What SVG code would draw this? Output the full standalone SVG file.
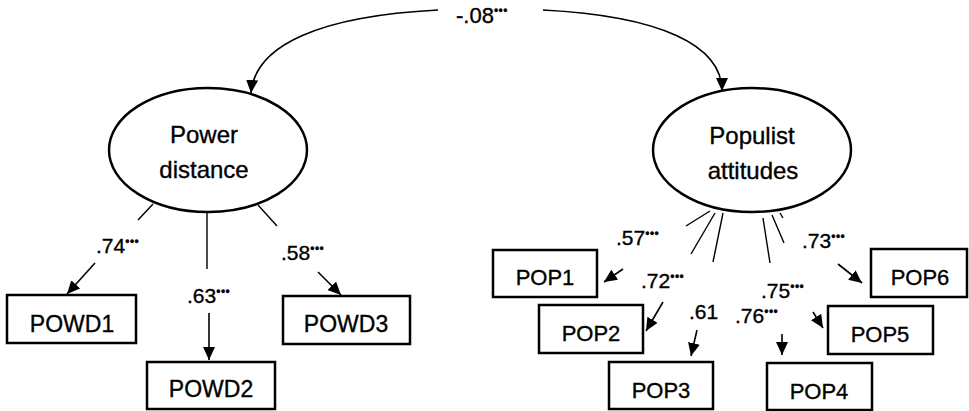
<svg xmlns="http://www.w3.org/2000/svg" width="969" height="411" viewBox="0 0 969 411">
<style>
text{font-family:"Liberation Sans",Arial,sans-serif;fill:#000;stroke:#000;stroke-width:0.35}
.lat{fill:#fff;stroke:#000;stroke-width:2.5}
.box{fill:#fff;stroke:#000;stroke-width:2.5}
.lt{font-size:24px;text-anchor:middle}
.bx{font-size:23px;text-anchor:middle}
.bt{font-size:22px;text-anchor:middle}
.lb{font-size:21px}
.st{font-size:12px;letter-spacing:0.5px}
.ln{stroke:#000;stroke-width:1.4;fill:none}
.ar{stroke:#000;stroke-width:1.6;fill:none;marker-end:url(#ah)}
</style>
<defs>
<marker id="ah" markerUnits="userSpaceOnUse" markerWidth="14" markerHeight="12" refX="13" refY="6" orient="auto">
<path d="M0,0 L13,6 L0,12 Z" fill="#000"/>
</marker>
</defs>
<rect width="969" height="411" fill="#fff"/>
<g id="connectors">
<path class="ar" d="M438,10 C320,16 255,45 251,93"/>
<path class="ar" d="M543,10 C660,16 722,45 722,91"/>
<line class="ln" x1="153" y1="204" x2="138" y2="220"/>
<line class="ar" x1="95" y1="263" x2="67" y2="294"/>
<line class="ln" x1="207" y1="212" x2="207" y2="269"/>
<line class="ar" x1="209" y1="313" x2="209" y2="360"/>
<line class="ln" x1="258" y1="205" x2="277" y2="226"/>
<line class="ar" x1="318" y1="272" x2="341" y2="295"/>
<line class="ln" x1="710" y1="211" x2="686" y2="226"/>
<line class="ln" x1="715" y1="213" x2="691" y2="254"/>
<line class="ln" x1="723" y1="213" x2="713" y2="262"/>
<line class="ln" x1="763" y1="218" x2="770" y2="263"/>
<line class="ln" x1="772" y1="215" x2="784" y2="243"/>
<line class="ln" x1="780" y1="213" x2="783" y2="218"/>
<line class="ar" x1="623" y1="269" x2="604" y2="282"/>
<line class="ar" x1="663" y1="302" x2="646" y2="331"/>
<line class="ar" x1="697" y1="330" x2="691" y2="356"/>
<line class="ar" x1="782" y1="334" x2="782" y2="355"/>
<line class="ar" x1="813" y1="312" x2="823" y2="328"/>
<line class="ar" x1="838" y1="264" x2="862" y2="283"/>
</g>
<g id="cov-label"><text x="456" y="23" style="font-size:22px">-.08<tspan class="st" dy="-8">•••</tspan></text></g>
<g id="power-distance">
<ellipse class="lat" cx="208" cy="150" rx="99" ry="62"/>
<text class="lt" x="204" y="143">Power</text>
<text class="lt" x="204" y="178">distance</text>
</g>
<g id="populist-attitudes">
<ellipse class="lat" cx="752" cy="150" rx="99" ry="62"/>
<text class="lt" x="752" y="144">Populist</text>
<text class="lt" x="753" y="179">attitudes</text>
</g>
<g id="POWD1"><rect class="box" x="7" y="295" width="129" height="48"/><text class="bx" x="72" y="332">POWD1</text></g>
<g id="POWD2"><rect class="box" x="147" y="362" width="128" height="47"/><text class="bx" x="211" y="397">POWD2</text></g>
<g id="POWD3"><rect class="box" x="283" y="296" width="127" height="48"/><text class="bx" x="346" y="332">POWD3</text></g>
<g id="POP1"><rect class="box" x="493" y="250" width="104" height="47"/><text class="bt" x="545" y="285">POP1</text></g>
<g id="POP2"><rect class="box" x="539" y="305" width="104" height="48"/><text class="bt" x="591" y="341">POP2</text></g>
<g id="POP3"><rect class="box" x="609" y="362" width="104" height="47"/><text class="bt" x="661" y="398">POP3</text></g>
<g id="POP4"><rect class="box" x="767" y="363" width="105" height="47"/><text class="bt" x="819" y="399">POP4</text></g>
<g id="POP5"><rect class="box" x="828" y="306" width="105" height="48"/><text class="bt" x="880" y="342">POP5</text></g>
<g id="POP6"><rect class="box" x="871" y="249" width="96" height="48"/><text class="bt" x="920" y="285">POP6</text></g>
<g id="loadings">
<text class="lb" x="96" y="253">.74<tspan class="st" dy="-7">•••</tspan></text>
<text class="lb" x="187" y="303">.63<tspan class="st" dy="-7">•••</tspan></text>
<text class="lb" x="281" y="260">.58<tspan class="st" dy="-7">•••</tspan></text>
<text class="lb" x="616" y="245">.57<tspan class="st" dy="-7">•••</tspan></text>
<text class="lb" x="641" y="288">.72<tspan class="st" dy="-7">•••</tspan></text>
<text class="lb" x="689" y="319">.61</text>
<text class="lb" x="735" y="323">.76<tspan class="st" dy="-7">•••</tspan></text>
<text class="lb" x="761" y="298">.75<tspan class="st" dy="-7">•••</tspan></text>
<text class="lb" x="802" y="248">.73<tspan class="st" dy="-7">•••</tspan></text>
</g>
</svg>
